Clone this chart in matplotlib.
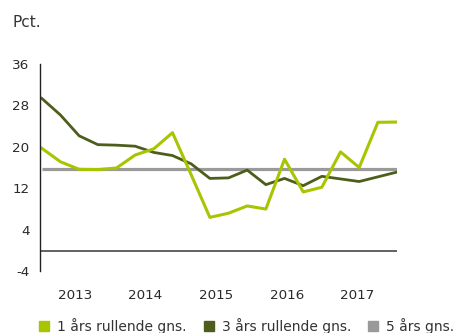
import numpy as np
import matplotlib.pyplot as plt
from matplotlib.patches import Rectangle

plt.rcParams['font.family'] = ['DejaVu Sans']
plt.rcParams['axes.unicode_minus'] = False

# quarterly observations, 2013-2017
one_year = [19.7, 17.1, 15.65, 15.6, 15.9, 18.4, 19.6, 22.7, 14.6, 6.4,
            7.2, 8.6, 8.0, 17.6, 11.3, 12.2, 19.0, 16.0, 24.7, 24.75]
three_year = [29.3, 26.1, 22.1, 20.4, 20.3, 20.1, 18.9, 18.3, 16.7, 13.9,
              14.0, 15.5, 12.7, 13.9, 12.5, 14.3, 13.8, 13.3, 14.2, 15.1]
five_year = 15.7

year_labels = ['2013', '2014', '2015', '2016', '2017']
year_pos = [1.78, 5.56, 9.34, 13.12, 16.9]
y_ticks = [36, 28, 20, 12, 4, -4]
legend_labels = ['1 års rullende gns.', '3 års rullende gns.', '5 års gns.']

c_light = '#a9c400'
c_dark = '#4d5e1c'
c_grey = '#9a9a9a'
c_text = '#2a2a2a'

x = np.arange(len(one_year))

W, H = 459, 333
fig = plt.figure(figsize=(W / 100, H / 100), dpi=100)
ax = fig.add_axes([0.087, 0.185, 0.779, 0.624])

ax.plot(x, [five_year] * len(x), color=c_grey, lw=2.3, solid_capstyle='butt')
ax.plot(x, three_year, color=c_dark, lw=2.0)
ax.plot(x, one_year, color=c_light, lw=2.2)
ax.axhline(0, color='#555555', lw=1.3)

ax.set_xlim(-0.1, 19.05)
ax.set_ylim(-4, 36)
ax.set_yticks(y_ticks)
ax.set_xticks(year_pos)
ax.set_xticklabels(year_labels)
ax.tick_params(axis='both', length=0, labelsize=9.7, colors=c_text)
ax.tick_params(axis='x', pad=13)
ax.tick_params(axis='y', pad=7.5)

for s in ['top', 'right', 'bottom']:
    ax.spines[s].set_visible(False)
ax.spines['left'].set_linewidth(1.0)
ax.spines['left'].set_color('#222222')

fig.text(12 / W, 1 - 26.7 / H, 'Pct.', fontsize=11, color='#333333',
         va='baseline')

# legend drawn by hand: square + label
sq_x = [38.5, 203.5, 367.5]
txt_x = [57, 222, 386]
for c, lab, sx, tx in zip((c_light, c_dark, c_grey), legend_labels, sq_x, txt_x):
    fig.patches.append(Rectangle((sx / W, 2 / H), 10.5 / W, 10 / H,
                                 transform=fig.transFigure, color=c))
    fig.text(tx / W, 2 / H, lab, fontsize=10, color='#333333', va='baseline')

fig.savefig('out.png', dpi=100)
